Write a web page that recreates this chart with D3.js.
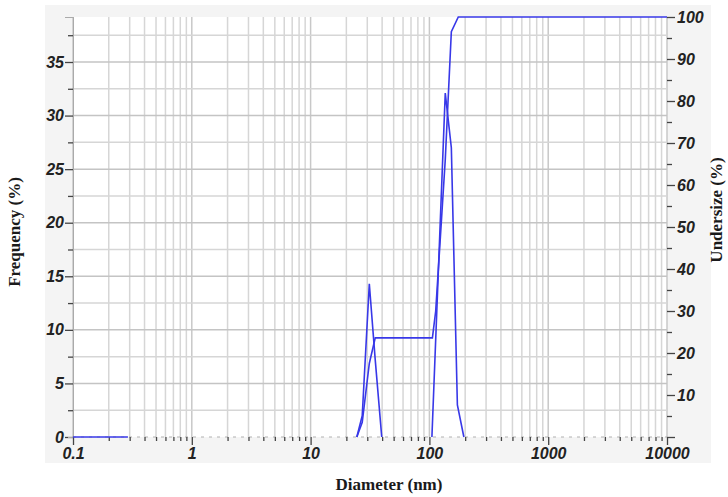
<!DOCTYPE html>
<html>
<head>
<meta charset="utf-8">
<script src="https://cdn.jsdelivr.net/npm/d3@7"></script>
<style>
  body { margin: 0; background: #fff; }
  .tick text { font-family: "Liberation Sans", Arial, sans-serif; font-weight: bold; font-style: italic; font-size: 16px; fill: #222; }
  .title { font-family: "Liberation Serif", "DejaVu Serif", serif; font-weight: bold; font-size: 17px; fill: #1a1a1a; }
</style>
</head>
<body>
<script>
// frequency curve, first peak (diameter nm / %)
var peak1Size = [24.5, 27.2, 31.2, 35.0, 39.7];
var peak1Freq = [0, 2.0, 14.3, 7.2, 0];
// frequency curve, second peak
var peak2Size = [105, 136, 153, 172, 195];
var peak2Freq = [0, 32.1, 27.0, 3.0, 0];
// zero stretch drawn at the very left
var baseSize = [0.1, 0.29];
var baseFreq = [0, 0];
// cumulative undersize curve
var cumSize = [24.5, 27.2, 31.2, 35.0, 106, 113, 136, 153, 175, 10000];
var cumPct = [0, 3.5, 17.5, 23.6, 23.6, 30, 66, 96.5, 100, 100];

// axis ticks
var xLabels = [0.1, 1, 10, 100, 1000, 10000];
var leftMajor = [0, 5, 10, 15, 20, 25, 30, 35];
var leftMinor = [2.5, 7.5, 12.5, 17.5, 22.5, 27.5, 32.5, 37.5];
var rightMajor = [0, 10, 20, 30, 40, 50, 60, 70, 80, 90, 100];
var rightMinor = [5, 15, 25, 35, 45, 55, 65, 75, 85, 95];

drawChart();

function drawChart(){
  var width = 728, height = 497;
  var pLeft = 73, pRight = 667, pTop = 17, pBottom = 437;

  var svg = d3.select("body").append("svg")
    .attr("width", width)
    .attr("height", height);

  //grey frame behind the plot
  svg.append("rect").attr("x", 45).attr("y", 5).attr("width", 666).attr("height", 458).attr("fill", "#f4f4f4");
  svg.append("rect").attr("x", pLeft).attr("y", pTop).attr("width", pRight - pLeft).attr("height", pBottom - pTop).attr("fill", "#fff");

  var x = d3.scaleLog().domain([0.1, 10000]).range([pLeft, pRight]);
  var yL = d3.scaleLinear().domain([0, 39.2]).range([pBottom, pTop]);
  var yR = d3.scaleLinear().domain([0, 100]).range([pBottom, pTop]);

  //log grid values 0.1 .. 10000
  var gridX = [];
  for (var e = -1; e <= 3; e++) {
    for (var m = 1; m <= 9; m++) gridX.push(+(m * Math.pow(10, e)).toPrecision(3));
  }
  gridX.push(10000);

  svg.append("g").selectAll("line")
    .data(gridX).enter().append("line")
    .attr("x1", function(d){ return x(d); })
    .attr("x2", function(d){ return x(d); })
    .attr("y1", pTop).attr("y2", pBottom)
    .attr("stroke", function(d){ return xLabels.indexOf(d) >= 0 ? "#c8c8c8" : "#d6d6d6"; })
    .attr("stroke-width", 1.5);

  svg.append("g").selectAll("line")
    .data(leftMajor.slice(1).concat(leftMinor)).enter().append("line")
    .attr("x1", pLeft).attr("x2", pRight)
    .attr("y1", function(d){ return yL(d); })
    .attr("y2", function(d){ return yL(d); })
    .attr("stroke", function(d){ return d % 5 === 0 ? "#c4c4c4" : "#d6d6d6"; })
    .attr("stroke-width", 1.5);

  //dashed zero line
  svg.append("line")
    .attr("x1", pLeft).attr("x2", pRight)
    .attr("y1", pBottom).attr("y2", pBottom)
    .attr("stroke", "#b0b0b0").attr("stroke-dasharray", "3,5");

  //left axis
  svg.append("g").attr("class", "axis").attr("transform", "translate(" + pLeft + ",0)")
    .call(d3.axisLeft(yL).tickValues(leftMajor).tickSize(8).tickPadding(1).tickFormat(d3.format("d")));
  svg.append("g").attr("class", "axis").attr("transform", "translate(" + pLeft + ",0)")
    .call(d3.axisLeft(yL).tickValues(leftMinor).tickSize(5).tickFormat(""));

  //right axis
  svg.append("g").attr("class", "axis nodomain").attr("transform", "translate(" + pRight + ",0)")
    .call(d3.axisRight(yR).tickValues(rightMajor).tickSize(8).tickPadding(2)
      .tickFormat(function(d){ return d === 0 ? "" : d; }));
  svg.append("g").attr("class", "axis nodomain").attr("transform", "translate(" + pRight + ",0)")
    .call(d3.axisRight(yR).tickValues(rightMinor).tickSize(5).tickFormat(""));

  //bottom axis
  svg.append("g").attr("class", "axis nodomain").attr("transform", "translate(0," + pBottom + ")")
    .call(d3.axisBottom(x).tickValues(xLabels).tickSize(8).tickPadding(3)
      .tickFormat(function(d){ return String(d); }));
  svg.append("g").attr("class", "axis nodomain").attr("transform", "translate(0," + pBottom + ")")
    .call(d3.axisBottom(x).tickValues(gridX.filter(function(d){ return xLabels.indexOf(d) < 0; })).tickSize(4).tickFormat(""));

  svg.selectAll(".axis .domain").attr("stroke", "#aaa").attr("stroke-width", 1);
  svg.selectAll(".nodomain .domain").remove();
  svg.selectAll(".tick line").attr("stroke", "#444").attr("stroke-width", 1.3);

  //curves
  var freqLine = d3.line()
    .x(function(d){ return x(d[0]); })
    .y(function(d){ return yL(d[1]); });
  var cumLine = d3.line()
    .x(function(d){ return x(d[0]); })
    .y(function(d){ return yR(d[1]); });

  function pairs(a, b){ return a.map(function(v, i){ return [v, b[i]]; }); }

  [pairs(baseSize, baseFreq), pairs(peak1Size, peak1Freq), pairs(peak2Size, peak2Freq)].forEach(function(s){
    svg.append("path").datum(s)
      .attr("d", freqLine)
      .attr("fill", "none")
      .attr("stroke", "#3838e8")
      .attr("stroke-width", 1.6);
  });

  svg.append("path").datum(pairs(cumSize, cumPct))
    .attr("d", cumLine)
    .attr("fill", "none")
    .attr("stroke", "#3838e8")
    .attr("stroke-width", 1.6);

  //axis titles
  svg.append("text").attr("class", "title")
    .attr("x", 389).attr("y", 490).attr("text-anchor", "middle")
    .text("Diameter (nm)");
  svg.append("text").attr("class", "title")
    .attr("transform", "translate(20,232) rotate(-90)").attr("text-anchor", "middle")
    .text("Frequency (%)");
  svg.append("text").attr("class", "title")
    .attr("transform", "translate(722,210) rotate(-90)").attr("text-anchor", "middle")
    .text("Undersize (%)");
}
</script>
</body>
</html>
